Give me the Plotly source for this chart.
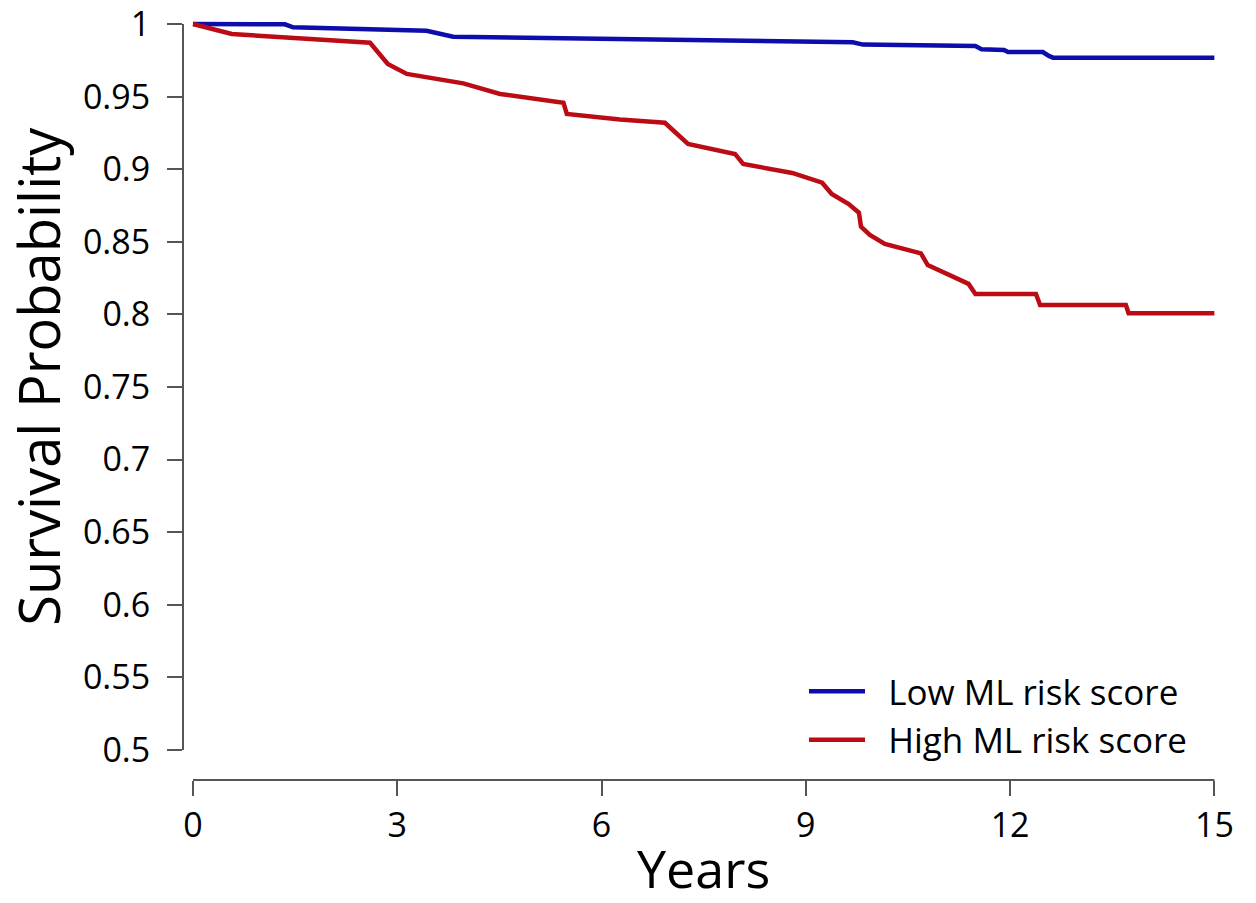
import plotly.graph_objects as go

# ---- data ----
low_years = [0, 1.35, 1.47, 3.43, 3.82, 6.27, 9.69, 9.84, 11.49, 11.58, 11.91, 11.97,
             12.48, 12.57, 12.63, 15.0]
low_surv = [1.0, 0.9998, 0.9977, 0.9954, 0.9913, 0.9895, 0.9874, 0.9858, 0.9848, 0.9826,
            0.9821, 0.9807, 0.9807, 0.9780, 0.9768, 0.9768]

high_years = [0, 0.57, 2.60, 2.86, 3.14, 3.97, 4.51, 5.44, 5.49, 6.27, 6.93, 7.27, 7.96,
              8.08, 8.80, 9.24, 9.38, 9.63, 9.78, 9.81, 9.94, 10.16, 10.69, 10.79,
              11.39, 11.49, 12.38, 12.44, 13.70, 13.74, 15.0]
high_surv = [1.0, 0.9931, 0.9871, 0.9725, 0.9656, 0.9591, 0.9518, 0.9458, 0.9380, 0.9343,
             0.9320, 0.9174, 0.9105, 0.9036, 0.8974, 0.8907, 0.8829, 0.8760, 0.8700,
             0.8604, 0.8547, 0.8485, 0.8420, 0.8340, 0.8210, 0.8140, 0.8140, 0.8065,
             0.8065, 0.8008, 0.8008]

x_ticks = [0, 3, 6, 9, 12, 15]
y_ticks = [0.5, 0.55, 0.6, 0.65, 0.7, 0.75, 0.8, 0.85, 0.9, 0.95, 1.0]
y_tick_text = ["0.5", "0.55", "0.6", "0.65", "0.7", "0.75", "0.8", "0.85", "0.9", "0.95", "1"]

series_names = ["Low ML risk score", "High ML risk score"]
series_colors = ["#0d0dab", "#bb0c16"]

FONT = "Open Sans"
AXIS_COLOR = "#555555"
NBSP = "\u00a0"

fig = go.Figure()
fig.add_trace(go.Scatter(x=low_years, y=low_surv, mode="lines", name=NBSP * 2 + series_names[0],
                         line=dict(color=series_colors[0], width=4.5)))
fig.add_trace(go.Scatter(x=high_years, y=high_surv, mode="lines", name=NBSP * 2 + series_names[1],
                         line=dict(color=series_colors[1], width=4.5)))

# axis lines spanning only the tick range (base-R style)
fig.add_shape(type="line", xref="paper", yref="y", x0=0, x1=0,
              y0=min(y_ticks), y1=max(y_ticks), line=dict(color=AXIS_COLOR, width=2))
fig.add_shape(type="line", xref="x", yref="paper", x0=min(x_ticks), x1=max(x_ticks),
              y0=0, y1=0, line=dict(color=AXIS_COLOR, width=2))

fig.add_annotation(text="Survival Probability", textangle=-90, xref="paper", yref="y",
                   x=(38 - 183) / 1045, y=0.757, xanchor="center", yanchor="middle",
                   showarrow=False, font=dict(family=FONT, size=56, color="black"))
fig.add_annotation(text="Years", xref="x", yref="paper", x=7.5, y=(780 - 867) / 774,
                   xanchor="center", yanchor="middle", showarrow=False,
                   font=dict(family=FONT, size=52, color="black"))

fig.update_layout(
    width=1256, height=903,
    margin=dict(l=183, r=28, t=6, b=123, autoexpand=False),
    paper_bgcolor="white", plot_bgcolor="white",
    font=dict(family=FONT, size=34, color="black"),
    showlegend=True,
    legend=dict(x=(804 - 183) / 1045, y=(780 - 662) / 774, xanchor="left", yanchor="top",
                bgcolor="rgba(0,0,0,0)", itemwidth=56, font=dict(size=35)),
    xaxis=dict(range=[-0.147, 15.2], tickvals=x_ticks, ticks="outside", ticklen=15,
               tickwidth=2, tickcolor=AXIS_COLOR, showline=False, showgrid=False,
               zeroline=False, ticklabelstandoff=0, ticklabeloverflow="allow",
               automargin=False),
    yaxis=dict(range=[0.4793, 1.0124], tickvals=y_ticks, ticktext=y_tick_text,
               ticks="outside", ticklen=15, tickwidth=2, tickcolor=AXIS_COLOR,
               showline=False, showgrid=False, zeroline=False, ticklabelstandoff=10,
               ticklabeloverflow="allow", automargin=False),
)

fig.write_html("out.html", config={"displayModeBar": False},
               post_script="document.body.style.margin='0';")
